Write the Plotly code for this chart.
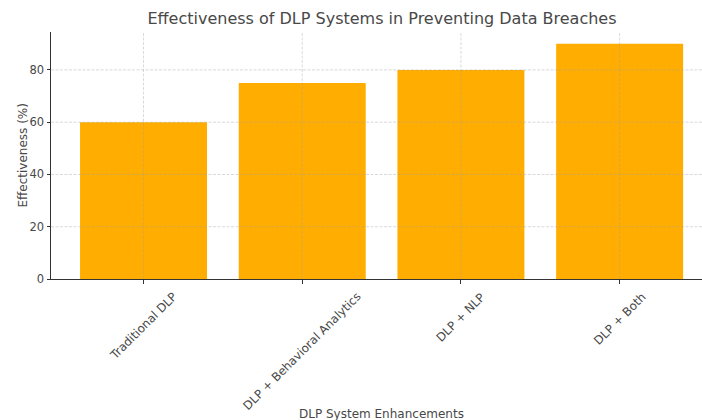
import plotly.graph_objects as go

categories = ["Traditional DLP", "DLP + Behavioral Analytics", "DLP + NLP", "DLP + Both"]
effectiveness = [60, 75, 80, 90]
y_ticks = [0, 20, 40, 60, 80]

title_text = "Effectiveness of DLP Systems in Preventing Data Breaches"
x_title = "DLP System Enhancements"
y_title = "Effectiveness (%)"

BAR_COLOR = "#FFAD00"
TEXT_COLOR = "#484848"
AXIS_COLOR = "#333333"
GRID_COLOR = "rgba(160,160,160,0.5)"
FONT = "DejaVu Sans, Liberation Sans, sans-serif"

W, H = 702, 420
L, R, T, B = 51, 0, 32, 141
PLOT_H = H - T - B
PLOT_W = W - L - R
CENTER_X = ((51 + 713) / 2 - L) / PLOT_W

fig = go.Figure()
fig.add_trace(go.Bar(
    x=list(range(len(categories))),
    y=effectiveness,
    marker=dict(color=BAR_COLOR, line=dict(width=0)),
    width=0.8,
    showlegend=False,
    hovertext=categories,
))

shapes = []
for i in range(len(categories)):
    shapes.append(dict(type="line", xref="x", yref="paper", x0=i, x1=i, y0=0, y1=1,
                       line=dict(color=GRID_COLOR, width=0.8, dash="3px,1.5px"), layer="above"))
for v in y_ticks[1:]:
    shapes.append(dict(type="line", xref="paper", yref="y", x0=0, x1=1, y0=v, y1=v,
                       line=dict(color=GRID_COLOR, width=0.8, dash="3px,1.5px"), layer="above"))

annotations = []
for i, name in enumerate(categories):
    annotations.append(dict(
        x=i, xref="x", y=-8 / PLOT_H, yref="paper",
        text=name, textangle=-45, showarrow=False,
        xanchor="center", yanchor="top",
        font=dict(size=11.8, color=TEXT_COLOR, family=FONT),
    ))
annotations.append(dict(
    x=CENTER_X, xref="paper", y=-(414 - T - PLOT_H) / PLOT_H,
    yref="paper", text=x_title, showarrow=False, xanchor="center", yanchor="middle",
    font=dict(size=12, color=TEXT_COLOR, family=FONT),
))
annotations.append(dict(
    x=(22 - L) / PLOT_W, xref="paper", y=0.5, yref="paper",
    text=y_title, textangle=-90, showarrow=False, xanchor="center", yanchor="middle",
    font=dict(size=12, color=TEXT_COLOR, family=FONT),
))

fig.update_layout(
    width=W, height=H,
    margin=dict(l=L, r=R, t=T, b=B),
    paper_bgcolor="white", plot_bgcolor="white",
    font=dict(family=FONT, color=TEXT_COLOR, size=11),
    title=dict(text=title_text, x=(51 + 713) / 2 / W, xanchor="center",
               y=1 - 18 / H, yanchor="middle",
               font=dict(size=16, color=TEXT_COLOR, family=FONT)),
    shapes=shapes,
    annotations=annotations,
    bargap=0.2,
)

fig.update_xaxes(
    range=[-0.583, 3.519],
    tickvals=list(range(len(categories))),
    showticklabels=False,
    ticks="outside", ticklen=3.5, tickcolor=AXIS_COLOR, tickwidth=0.8,
    showline=True, linecolor=AXIS_COLOR, linewidth=1,
    showgrid=False, zeroline=False,
)
fig.update_yaxes(
    range=[0, 94.5],
    tickvals=y_ticks,
    ticks="outside", ticklen=3.5, tickcolor=AXIS_COLOR, tickwidth=0.8,
    showline=True, linecolor=AXIS_COLOR, linewidth=1,
    showgrid=False, zeroline=False,
    tickfont=dict(size=11.5, color=TEXT_COLOR),
)

fig.write_html("out.html")
